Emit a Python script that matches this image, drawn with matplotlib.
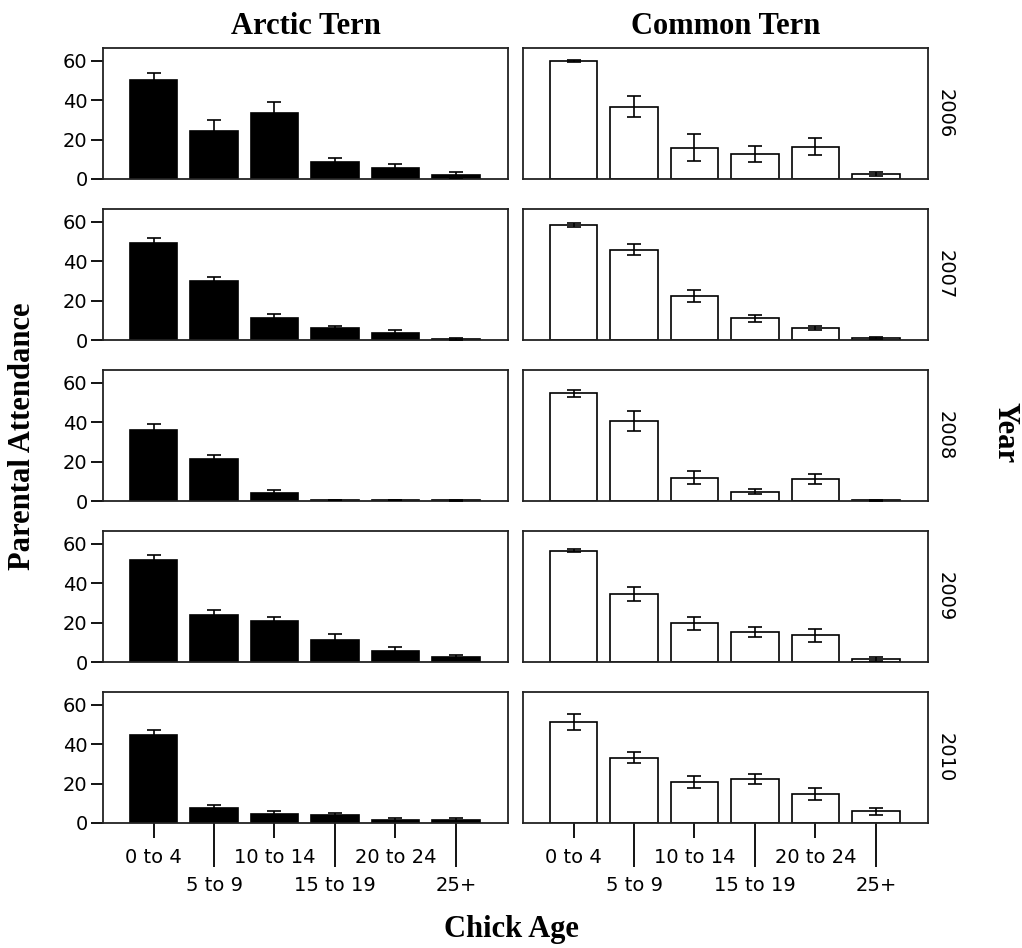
#!/usr/bin/env python

import numpy as np
import matplotlib
matplotlib.use('Agg')
import matplotlib.pyplot as plt
from matplotlib.ticker import FixedLocator, FixedFormatter

# Data (mean parental attendance and error bars)
ages = ['0 to 4', '5 to 9', '10 to 14', '15 to 19', '20 to 24', '25+']
years = ['2006', '2007', '2008', '2009', '2010']
species = ['Arctic Tern', 'Common Tern']

arctic_2006 = [50.2, 24.4, 33.7, 8.5, 5.4, 2.0]
arctic_2007 = [49.2, 29.7, 11.4, 5.9, 3.7, 0.7]
arctic_2008 = [35.9, 21.5, 4.3, 0.5, 0.5, 0.4]
arctic_2009 = [52.0, 24.0, 20.8, 11.2, 5.6, 2.5]
arctic_2010 = [44.7, 7.8, 4.7, 4.1, 1.7, 1.7]

arctic_err_2006 = [3.5, 5.6, 5.6, 2.0, 2.1, 1.4]
arctic_err_2007 = [2.5, 2.5, 1.8, 1.2, 1.4, 0.5]
arctic_err_2008 = [3.4, 2.0, 1.4, 0.2, 0.2, 0.2]
arctic_err_2009 = [2.1, 2.4, 2.2, 2.8, 2.2, 0.9]
arctic_err_2010 = [2.6, 1.4, 1.2, 0.8, 0.8, 0.8]

common_2006 = [60.0, 36.8, 15.9, 12.7, 16.4, 2.7]
common_2007 = [58.6, 45.8, 22.4, 11.0, 6.1, 1.0]
common_2008 = [54.7, 40.5, 11.9, 4.8, 11.0, 0.3]
common_2009 = [56.6, 34.5, 19.6, 15.2, 13.7, 1.7]
common_2010 = [51.2, 33.2, 21.0, 22.4, 14.9, 5.9]

common_err_2006 = [0.5, 5.4, 7.0, 4.2, 4.2, 1.0]
common_err_2007 = [1.0, 2.7, 3.0, 1.9, 1.2, 0.5]
common_err_2008 = [1.9, 5.1, 3.3, 1.5, 2.5, 0.2]
common_err_2009 = [0.8, 3.4, 3.3, 2.5, 3.3, 1.0]
common_err_2010 = [4.0, 2.8, 3.0, 2.4, 3.0, 1.7]

arctic = [arctic_2006, arctic_2007, arctic_2008, arctic_2009, arctic_2010]
arctic_err = [arctic_err_2006, arctic_err_2007, arctic_err_2008,
              arctic_err_2009, arctic_err_2010]
common = [common_2006, common_2007, common_2008, common_2009, common_2010]
common_err = [common_err_2006, common_err_2007, common_err_2008,
              common_err_2009, common_err_2010]


def make_plot():
    W, H = 1022, 948
    fig = plt.figure(figsize=(W / 100, H / 100), dpi=100)

    serif = 'Liberation Serif'
    sans = 'DejaVu Sans'
    tick_fs = 14
    title_fs = 22

    # panel geometry in pixels
    lefts = [103, 523]
    pw = 405
    tops = [48, 209, 370, 531, 692]
    ph = 131

    x = np.arange(len(ages))
    for r in range(len(years)):
        for c in range(2):
            ax = fig.add_axes([lefts[c] / W, 1 - (tops[r] + ph) / H, pw / W, ph / H])
            if c == 0:
                vals, errs = arctic[r], arctic_err[r]
                ax.bar(x, vals, width=0.78, color='black', edgecolor='black',
                       linewidth=1.2, zorder=2)
            else:
                vals, errs = common[r], common_err[r]
                ax.bar(x, vals, width=0.78, color='white', edgecolor='black',
                       linewidth=1.2, zorder=2)
            ax.errorbar(x, vals, yerr=errs, fmt='none', ecolor='black',
                        elinewidth=1.2, capsize=5, capthick=1.2, zorder=3)
            ax.set_xlim(-0.835, 5.86)
            ax.set_ylim(0, 66.5)
            for s in ax.spines.values():
                s.set_linewidth(1.3)
                s.set_color('#222222')

            if c == 0:
                ax.set_yticks([0, 20, 40, 60])
                ax.tick_params(axis='y', length=9, width=1.3, pad=2,
                               labelsize=tick_fs)
                for lab in ax.get_yticklabels():
                    lab.set_family(sans)
            else:
                ax.set_yticks([])

            if r == len(years) - 1:
                ax.xaxis.set_major_locator(FixedLocator(x[0::2]))
                ax.xaxis.set_major_formatter(FixedFormatter(ages[0::2]))
                ax.xaxis.set_minor_locator(FixedLocator(x[1::2]))
                ax.xaxis.set_minor_formatter(FixedFormatter(ages[1::2]))
                ax.tick_params(axis='x', which='major', length=11, width=1.3,
                               pad=7, labelsize=tick_fs)
                ax.tick_params(axis='x', which='minor', length=32, width=1.3,
                               pad=6, labelsize=tick_fs)
                for lab in ax.get_xticklabels(which='both'):
                    lab.set_family(sans)
            else:
                ax.set_xticks([])

            if c == 1:
                fig.text(945 / W, 1 - (tops[r] + ph / 2) / H, years[r],
                         rotation=-90, ha='center', va='center',
                         family=sans, fontsize=tick_fs)

    # column titles and axis titles
    for c in range(2):
        fig.text((lefts[c] + pw / 2) / W, 1 - 27 / H, species[c], ha='center',
                 va='center', family=serif, fontweight='bold', fontsize=title_fs)
    fig.text(23 / W, 1 - 436 / H, 'Parental Attendance', rotation=90,
             ha='center', va='center', family=serif, fontweight='bold',
             fontsize=title_fs)
    fig.text(511 / W, 1 - 929 / H, 'Chick Age', ha='center', va='center',
             family=serif, fontweight='bold', fontsize=title_fs)
    fig.text(1005 / W, 1 - 433 / H, 'Year', rotation=-90, ha='center',
             va='center', family=serif, fontweight='bold', fontsize=title_fs)

    plt.savefig('out.png', dpi=100)


def main():
    make_plot()


if __name__ == '__main__':
    main()
